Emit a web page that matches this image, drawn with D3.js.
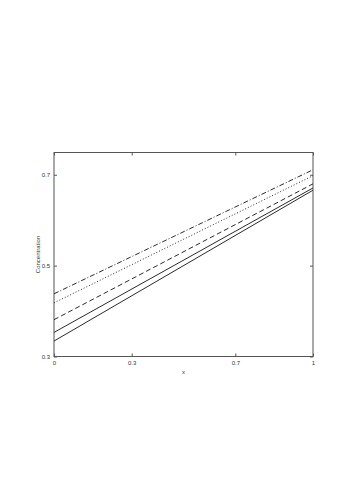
<!DOCTYPE html>
<html><head><meta charset="utf-8">
<script src="https://cdn.jsdelivr.net/npm/d3@7"></script>
<style>body{margin:0;background:#fff}svg{display:block}</style>
</head><body>
<script>
const xTicks = [0, 0.3, 0.7, 1];
const yTicks = [0.3, 0.5, 0.7];
const xVals = [0, 1];
const seriesNames = ["solid2", "solid1", "dashed", "dotted", "dashdot"];
const solid2 = [0.334, 0.666];
const solid1 = [0.353, 0.671];
const dashed = [0.381, 0.680];
const dotted = [0.418, 0.698];
const dashdot = [0.438, 0.711];
const styles = {solid2:null, solid1:null, dashed:"5,3", dotted:"1,2", dashdot:"5,2,1,2"};
const allSeries = {solid2, solid1, dashed, dotted, dashdot};

const W=346,H=490;
const svg=d3.select("body").append("svg").attr("width",W).attr("height",H);
const L=54,R=313,T=152.5,B=356.5;
const x=d3.scaleLinear().domain([0,1]).range([L,R]);
const y=d3.scaleLinear().domain([0.3,0.749]).range([B,T]);
const axisColor="#555";
const g=svg.append("g");
g.append("rect").attr("x",L).attr("y",T).attr("width",R-L).attr("height",B-T)
 .attr("fill","none").attr("stroke",axisColor).attr("stroke-width",1);
const fs="6px";
const ff="Liberation Sans, Arial, sans-serif";
const xb=g.append("g").attr("transform",`translate(0,${B})`).call(d3.axisBottom(x).tickValues(xTicks).tickFormat(d=>d3.format("")(d)).tickSize(-3).tickPadding(4));
const xt=g.append("g").attr("transform",`translate(0,${T})`).call(d3.axisTop(x).tickValues(xTicks).tickFormat("").tickSize(-3));
const yl=g.append("g").attr("transform",`translate(${L},0)`).call(d3.axisLeft(y).tickValues(yTicks).tickFormat(d3.format(".1f")).tickSize(-3).tickPadding(4));
const yr=g.append("g").attr("transform",`translate(${R},0)`).call(d3.axisRight(y).tickValues(yTicks).tickFormat("").tickSize(-3));
[xb,xt,yl,yr].forEach(a=>{a.select(".domain").remove();a.selectAll("line").attr("stroke",axisColor);
 a.selectAll("text").attr("font-size",fs).attr("font-family",ff).attr("fill","#333");});
svg.append("text").attr("x",(L+R)/2).attr("y",374).attr("text-anchor","middle")
 .attr("font-size",fs).attr("font-family",ff).attr("fill","#333").text("x");
svg.append("text").attr("transform",`translate(40,${(T+B)/2}) rotate(-90)`).attr("text-anchor","middle")
 .attr("font-size",fs).attr("font-family",ff).attr("fill","#333").text("Concentration");
const line=d3.line().x((d,i)=>x(xVals[i])).y(d=>y(d));
seriesNames.forEach(n=>{
 svg.append("path").datum(allSeries[n]).attr("d",line).attr("fill","none")
  .attr("stroke","#2a2a2a").attr("stroke-width",1)
  .attr("stroke-dasharray",styles[n]);
});
</script>
</body></html>
